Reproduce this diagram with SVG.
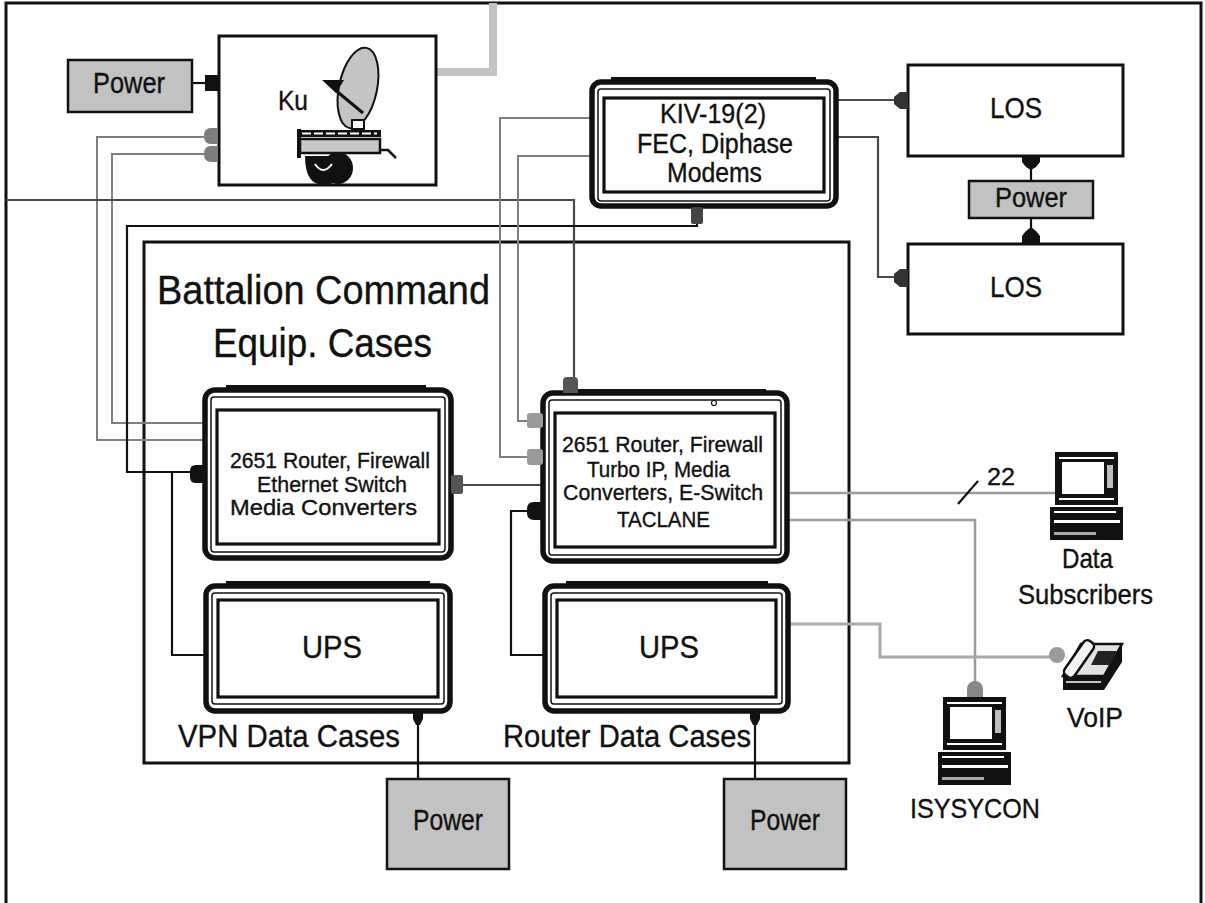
<svg xmlns="http://www.w3.org/2000/svg" width="1205" height="903" viewBox="0 0 1205 903">
  <style>
    .t { font-family: "Liberation Sans", Arial, sans-serif; fill: #111; stroke: #111; stroke-width: 0.35; }
    .box { fill: #fff; stroke: #111; stroke-width: 3; }
    .pwr { fill: #c2c2c2; stroke: #111; stroke-width: 2.5; }
    .shell { fill: #fff; stroke: #111; stroke-width: 5.5; }
    .rim { fill: none; stroke: #111; stroke-width: 1.5; }
    .face { fill: #fff; stroke: #111; stroke-width: 3.2; }
    .bar { fill: #111; }
    .w { fill: none; stroke-linejoin: miter; }
    .blk { stroke: #111; stroke-width: 2.2; }
    .dk { stroke: #4a4a4a; stroke-width: 2.2; }
    .gr { stroke: #808080; stroke-width: 2; }
    .lg { stroke: #9c9c9c; stroke-width: 2.5; }
    .xl { stroke: #aaaaaa; stroke-width: 3; }
  </style>
  <defs>
    <!-- desktop computer icon, origin = top-left of the monitor -->
    <g id="pc">
      <rect x="0" y="0" width="63" height="53" fill="#111"/>
      <rect x="4" y="5" width="55" height="2" fill="#fff"/>
      <rect x="7" y="10" width="42" height="32" fill="#fff"/>
      <rect x="52" y="13" width="6" height="23" fill="#bdbdbd"/>
      <rect x="4" y="46" width="55" height="2" fill="#fff"/>
      <rect x="-5" y="55" width="73" height="33" fill="#111"/>
      <rect x="-1" y="59" width="62" height="2" fill="#fff"/>
      <rect x="-1" y="68" width="66" height="3" fill="#fff"/>
      <rect x="-1" y="80" width="42" height="3" fill="#aaa"/>
    </g>
  </defs>

  <!-- page frame -->
  <path d="M6 903 V3 H1201 V903" fill="none" stroke="#111" stroke-width="3"/>

  <!-- battalion enclosure -->
  <g id="battalion">
    <rect x="144" y="242" width="705" height="521" fill="none" stroke="#111" stroke-width="3"/>
    <text class="t" x="157" y="304" font-size="40" textLength="333" lengthAdjust="spacingAndGlyphs">Battalion Command</text>
    <text class="t" x="213" y="357" font-size="40" textLength="219" lengthAdjust="spacingAndGlyphs">Equip. Cases</text>
    <text class="t" x="178" y="747" font-size="31" textLength="222" lengthAdjust="spacingAndGlyphs">VPN Data Cases</text>
    <text class="t" x="503" y="747" font-size="31" textLength="248" lengthAdjust="spacingAndGlyphs">Router Data Cases</text>
  </g>

  <!-- cabling -->
  <g id="connectors" class="w">
    <path class="blk" d="M192 83 H205"/>
    <path d="M436 72 H493 V3" fill="none" stroke="#c3c3c3" stroke-width="8"/>
    <path class="gr" d="M205 137 H97 V440 H205"/>
    <path class="gr" d="M205 154 H112 V423 H205"/>
    <path class="dk" d="M6 200 H574 V378"/>
    <path class="blk" d="M697 222 V226 H127 V472 H191"/>
    <path class="blk" d="M172 472 V655 H205"/>
    <path class="gr" d="M591 118 H500 V457 H528"/>
    <path class="gr" d="M591 156 H518 V421 H528"/>
    <path class="dk" d="M463 485 H543"/>
    <path class="blk" d="M528 511 H511 V655 H544"/>
    <path class="lg" d="M788 493 H1055"/>
    <path class="lg" d="M788 520 H975 V682"/>
    <path class="xl" d="M790 624 H880 V657 H1052"/>
    <path class="dk" d="M838 100 H895"/>
    <path class="dk" d="M838 137 H878 V277 H895"/>
    <path class="blk" d="M1031 166 V181"/>
    <path class="blk" d="M1031 218 V230"/>
    <path class="blk" d="M418 722 V779"/>
    <path class="blk" d="M755 722 V779"/>
    <path class="blk" d="M958 504 L978 481" stroke-width="2.5"/>
    <text class="t" x="987" y="485" font-size="24" textLength="28" lengthAdjust="spacingAndGlyphs">22</text>
  </g>

  <!-- satellite terminal power -->
  <g id="power-ku">
    <rect class="pwr" x="68" y="60" width="124" height="52"/>
    <text class="t" x="93" y="93" font-size="29" textLength="72" lengthAdjust="spacingAndGlyphs">Power</text>
  </g>

  <!-- Ku band terminal -->
  <g id="ku">
    <rect class="box" x="219" y="36" width="217" height="149"/>
    <text class="t" x="278" y="110" font-size="28" textLength="30" lengthAdjust="spacingAndGlyphs">Ku</text>
    <ellipse cx="358" cy="88" rx="19" ry="41" transform="rotate(12 358 88)" fill="#c4c4c4" stroke="#111" stroke-width="2"/>
    <path d="M322 80 L344 80 L336 93 Z" fill="#111"/>
    <path d="M334 89 L363 113" stroke="#111" stroke-width="3"/>
    <rect x="352" y="120" width="12" height="9" fill="#fff" stroke="#111" stroke-width="2"/>
    <rect x="298" y="130" width="83" height="7" fill="#111"/>
    <path d="M302 133.5 H377" stroke="#fff" stroke-width="2" stroke-dasharray="9 3"/>
    <rect x="300" y="139" width="80" height="14" fill="#c8c8c8" stroke="#111" stroke-width="2.5"/>
    <path d="M299 129 V158" stroke="#111" stroke-width="4"/>
    <path d="M380 150 H388 L396 158" fill="none" stroke="#111" stroke-width="2.5"/>
    <ellipse cx="338" cy="168" rx="15" ry="16" fill="#111"/>
    <path d="M305 156 Q305 185 324 185 Q345 185 345 156 Z" fill="#111"/>
    <path d="M315 164 Q323 176 332 164" fill="none" stroke="#fff" stroke-width="2"/>
    <rect x="205" y="75" width="13" height="16" fill="#111"/>
    <path d="M218 128 H211 Q204 128 204 136 Q204 144 211 144 H218 Z" fill="#7d7d7d"/>
    <path d="M218 146 H211 Q204 146 204 154 Q204 162 211 162 H218 Z" fill="#7d7d7d"/>
  </g>

  <!-- KIV-19 crypto / modem case -->
  <g id="kiv">
    <rect class="bar" x="611" y="77" width="205" height="7"/>
    <rect class="shell" x="592" y="82" width="244" height="124" rx="9"/>
    <rect class="rim" x="598" y="89" width="232" height="112" rx="3"/>
    <rect class="face" x="604" y="98" width="220" height="94"/>
    <text class="t" x="660" y="123" font-size="27" textLength="106" lengthAdjust="spacingAndGlyphs">KIV-19(2)</text>
    <text class="t" x="637" y="153" font-size="27" textLength="156" lengthAdjust="spacingAndGlyphs">FEC, Diphase</text>
    <text class="t" x="667" y="182" font-size="27" textLength="95" lengthAdjust="spacingAndGlyphs">Modems</text>
    <rect x="691" y="207" width="12" height="17" rx="2" fill="#444"/>
  </g>

  <!-- line-of-sight radios -->
  <g id="los-1">
    <rect class="box" x="908" y="65" width="215" height="91"/>
    <text class="t" x="990" y="118" font-size="29" textLength="52" lengthAdjust="spacingAndGlyphs">LOS</text>
    <path d="M908 92 V109 H900 L894 104 V97 L900 92 Z" fill="#333"/>
    <path d="M1022 156 H1040 V162 L1036 167 L1031 170 L1026 167 L1022 162 Z" fill="#111"/>
  </g>
  <g id="power-los">
    <rect class="pwr" x="969" y="181" width="124" height="37"/>
    <text class="t" x="995" y="207" font-size="28" textLength="72" lengthAdjust="spacingAndGlyphs">Power</text>
  </g>
  <g id="los-2">
    <rect class="box" x="908" y="244" width="215" height="90"/>
    <text class="t" x="990" y="297" font-size="29" textLength="52" lengthAdjust="spacingAndGlyphs">LOS</text>
    <path d="M908 269 V287 H900 L894 282 V274 L900 269 Z" fill="#333"/>
    <path d="M1022 243 H1040 V236 L1036 231 L1031 227 L1026 231 L1022 236 Z" fill="#111"/>
  </g>

  <!-- VPN router case -->
  <g id="vpn-router">
    <rect class="bar" x="226" y="385" width="200" height="7"/>
    <rect class="shell" x="205" y="390" width="246" height="168" rx="10"/>
    <rect class="rim" x="211" y="397" width="234" height="155" rx="3"/>
    <rect class="face" x="217" y="410" width="222" height="134"/>
    <text class="t" x="230" y="468" font-size="22" textLength="200" lengthAdjust="spacingAndGlyphs">2651 Router, Firewall</text>
    <text class="t" x="257" y="492" font-size="22" textLength="150" lengthAdjust="spacingAndGlyphs">Ethernet Switch</text>
    <text class="t" x="230" y="515" font-size="22" textLength="187" lengthAdjust="spacingAndGlyphs">Media Converters</text>
    <path d="M204 465 V483 H196 Q190 483 190 477 V471 Q190 465 196 465 Z" fill="#111"/>
    <rect x="451" y="475" width="12" height="19" rx="2" fill="#555"/>
  </g>

  <!-- main router case -->
  <g id="taclane-router">
    <rect class="bar" x="566" y="389" width="200" height="7"/>
    <rect class="shell" x="543" y="393" width="244" height="168" rx="10"/>
    <rect class="rim" x="549" y="400" width="232" height="155" rx="3"/>
    <rect class="face" x="555" y="413" width="220" height="134"/>
    <circle cx="714" cy="403" r="2.5" fill="#fff" stroke="#111" stroke-width="1.2"/>
    <text class="t" x="562" y="452" font-size="22" textLength="201" lengthAdjust="spacingAndGlyphs">2651 Router, Firewall</text>
    <text class="t" x="587" y="477" font-size="22" textLength="143" lengthAdjust="spacingAndGlyphs">Turbo IP, Media</text>
    <text class="t" x="563" y="500" font-size="22" textLength="200" lengthAdjust="spacingAndGlyphs">Converters, E-Switch</text>
    <text class="t" x="617" y="527" font-size="22" textLength="93" lengthAdjust="spacingAndGlyphs">TACLANE</text>
    <path d="M563 393 V381 Q563 377 567 377 H574 Q578 377 578 381 V393 Z" fill="#555"/>
    <rect x="527" y="413" width="16" height="15" rx="3" fill="#9a9a9a"/>
    <rect x="527" y="449" width="16" height="16" rx="3" fill="#9a9a9a"/>
    <path d="M543 502 V520 H534 Q527 520 527 513 V509 Q527 502 534 502 Z" fill="#111"/>
  </g>

  <!-- uninterruptible power supply cases -->
  <g id="ups-vpn">
    <rect class="bar" x="226" y="581" width="204" height="7"/>
    <rect class="shell" x="206" y="586" width="244" height="125" rx="9"/>
    <rect class="rim" x="212" y="593" width="232" height="111" rx="3"/>
    <rect class="face" x="218" y="600" width="220" height="97"/>
    <text class="t" x="302" y="658" font-size="32" textLength="60" lengthAdjust="spacingAndGlyphs">UPS</text>
    <path d="M413 712 H423 V719 L420 725 H416 L413 719 Z" fill="#111"/>
  </g>
  <g id="ups-router">
    <rect class="bar" x="566" y="581" width="202" height="7"/>
    <rect class="shell" x="545" y="586" width="243" height="125" rx="9"/>
    <rect class="rim" x="551" y="593" width="231" height="111" rx="3"/>
    <rect class="face" x="557" y="600" width="219" height="97"/>
    <text class="t" x="639" y="658" font-size="32" textLength="60" lengthAdjust="spacingAndGlyphs">UPS</text>
    <path d="M750 712 H760 V719 L757 725 H753 L750 719 Z" fill="#111"/>
  </g>

  <!-- shore power -->
  <g id="power-vpn">
    <rect class="pwr" x="387" y="779" width="122" height="90"/>
    <text class="t" x="413" y="830" font-size="29" textLength="70" lengthAdjust="spacingAndGlyphs">Power</text>
  </g>
  <g id="power-router">
    <rect class="pwr" x="724" y="779" width="122" height="90"/>
    <text class="t" x="750" y="830" font-size="29" textLength="70" lengthAdjust="spacingAndGlyphs">Power</text>
  </g>

  <!-- subscriber equipment -->
  <g id="data-subscribers">
    <use href="#pc" x="1055" y="452"/>
    <text class="t" x="1062" y="568" font-size="28" textLength="51" lengthAdjust="spacingAndGlyphs">Data</text>
    <text class="t" x="1018" y="604" font-size="28" textLength="135" lengthAdjust="spacingAndGlyphs">Subscribers</text>
  </g>
  <g id="isyscon">
    <circle cx="975" cy="689" r="8" fill="#888"/>
    <rect x="967" y="689" width="16" height="9" fill="#888"/>
    <use href="#pc" x="943" y="697"/>
    <text class="t" x="910" y="818" font-size="28" textLength="130" lengthAdjust="spacingAndGlyphs">ISYSYCON</text>
  </g>
  <g id="voip">
    <circle cx="1057" cy="655" r="8" fill="#9a9a9a"/>
    <polygon points="1063,676 1104,676 1104,690 1063,690" fill="#111"/>
    <path d="M1066 682 H1101" stroke="#fff" stroke-width="1.5"/>
    <polygon points="1063,676 1104,676 1122,644 1081,644" fill="#e2e2e2" stroke="#111" stroke-width="2.5"/>
    <polygon points="1104,676 1122,644 1122,662 1104,690" fill="#111"/>
    <polygon points="1098,651 1117,651 1110,665 1091,665" fill="#222"/>
    <rect x="1073" y="638" width="12" height="42" rx="5" transform="rotate(35 1079 659)" fill="#f2f2f2" stroke="#111" stroke-width="2.5"/>
    <text class="t" x="1067" y="727" font-size="28" textLength="56" lengthAdjust="spacingAndGlyphs">VoIP</text>
  </g>
</svg>
